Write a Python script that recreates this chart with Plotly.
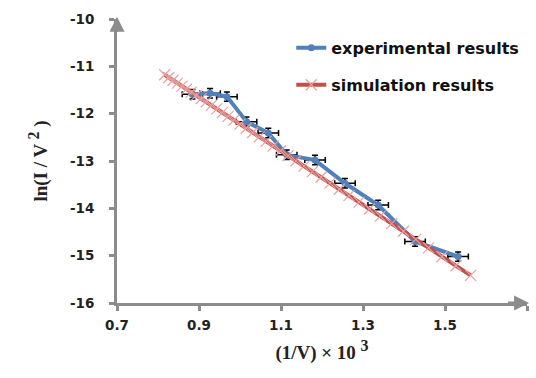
import plotly.graph_objects as go

# Experimental results (x = (1/V) x 10^3, y = ln(I/V^2))
exp_x = [0.884, 0.927, 0.968, 1.016, 1.069, 1.114, 1.183, 1.256, 1.337, 1.427, 1.532]
exp_y = [-11.59, -11.57, -11.64, -12.17, -12.41, -12.87, -12.98, -13.47, -13.93, -14.70, -15.02]
exp_err_x = [0.025] * len(exp_x)
exp_err_y = [0.1] * len(exp_y)

# Simulation results
sim_x = [0.8163, 0.8264, 0.8368, 0.8475, 0.8584, 0.8696, 0.8811, 0.8929, 0.9050, 0.9174,
         0.9302, 0.9434, 0.9569, 0.9709, 0.9852, 1.0000, 1.0152, 1.0309, 1.0471, 1.0638,
         1.0811, 1.0989, 1.1173, 1.1364, 1.1561, 1.1765, 1.1976, 1.2195, 1.2422, 1.2658,
         1.2903, 1.3158, 1.3423, 1.3699, 1.3986, 1.4286, 1.4599, 1.4925, 1.5267, 1.5625]
sim_y = [-11.178, -11.235, -11.294, -11.355, -11.417, -11.481, -11.546, -11.613, -11.682, -11.752,
         -11.825, -11.900, -11.977, -12.056, -12.137, -12.221, -12.308, -12.397, -12.489, -12.584,
         -12.682, -12.783, -12.888, -12.996, -13.108, -13.224, -13.344, -13.468, -13.597, -13.731,
         -13.870, -14.015, -14.166, -14.322, -14.485, -14.656, -14.834, -15.019, -15.213, -15.416]

x_ticks = [0.7, 0.9, 1.1, 1.3, 1.5, 1.7]
y_ticks = [-16, -15, -14, -13, -12, -11, -10]

AXIS_GREY = "#8c8c8c"
TICK_FONT = dict(family="DejaVu Sans", size=13.5, color="#222", weight="bold")
TITLE_FONT = dict(family="Liberation Serif", size=19, color="#222")
LEG_FONT = dict(family="DejaVu Sans", size=16, color="#111", weight="bold")

fig = go.Figure()
fig.add_trace(go.Scatter(
    x=exp_x, y=exp_y, mode="lines+markers", name="experimental results",
    line=dict(color="#4F81BD", width=4),
    marker=dict(symbol="circle", size=7, color="#4F81BD"),
    error_x=dict(type="data", array=exp_err_x, color="black", thickness=1.5, width=3),
    error_y=dict(type="data", array=exp_err_y, color="black", thickness=1.5, width=3),
    legend="legend",
))
fig.add_trace(go.Scatter(
    x=sim_x, y=sim_y, mode="lines+markers", name="simulation results",
    line=dict(color="#C0504D", width=4),
    marker=dict(symbol="x-thin", size=11, line=dict(width=1.2, color="#E8A09E")),
    legend="legend2",
))

fig.update_layout(
    width=536, height=378,
    margin=dict(l=117, r=9, t=19, b=75),
    paper_bgcolor="white", plot_bgcolor="white",
    xaxis=dict(
        range=[0.7, 1.7], tickvals=x_ticks, ticktext=[f"{v:.1f}" for v in x_ticks],
        showgrid=False, zeroline=False, showline=True, linewidth=3, linecolor=AXIS_GREY,
        ticks="outside", ticklen=5, tickwidth=3, tickcolor=AXIS_GREY,
        tickfont=TICK_FONT, ticklabelstandoff=3,
        title=dict(text="<b>(1/V) × 10 <sup><span style='font-size:16px'>3</span></sup></b>",
                   font=TITLE_FONT, standoff=14),
    ),
    yaxis=dict(
        range=[-16, -10], tickvals=y_ticks, ticktext=[str(v) for v in y_ticks],
        showgrid=False, zeroline=False, showline=True, linewidth=3, linecolor=AXIS_GREY,
        ticks="outside", ticklen=5, tickwidth=3, tickcolor=AXIS_GREY,
        tickfont=TICK_FONT, ticklabelstandoff=12,
        title=dict(text="<b>ln(I / V <sup><span style='font-size:16px'>2</span></sup> )</b>",
                   font=TITLE_FONT, standoff=18),
    ),
    legend=dict(x=0.425, y=0.958, xanchor="left", yanchor="top", bgcolor="rgba(0,0,0,0)",
                font=LEG_FONT),
    legend2=dict(x=0.425, y=0.828, xanchor="left", yanchor="top", bgcolor="rgba(0,0,0,0)",
                 font=LEG_FONT),
    showlegend=True,
)

# arrowheads at the ends of the axes
fig.add_annotation(x=0.7, y=-9.95, ax=0.7, ay=-10.3, xref="x", yref="y", axref="x", ayref="y",
                   showarrow=True, arrowhead=2, arrowsize=1, arrowwidth=3, arrowcolor=AXIS_GREY, text="")
fig.add_annotation(x=1.705, y=-16, ax=1.65, ay=-16, xref="x", yref="y", axref="x", ayref="y",
                   showarrow=True, arrowhead=2, arrowsize=1, arrowwidth=3, arrowcolor=AXIS_GREY, text="")

fig.write_html("out.html")
